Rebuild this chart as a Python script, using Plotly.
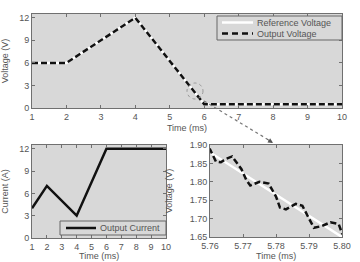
import plotly.graph_objects as go

# ---- data ----
ref_time = [1, 2, 4, 6, 10]
ref_voltage = [6, 6, 12, 0.5, 0.5]

out_time = [1, 2, 4, 5.760, 5.7618, 5.7633, 5.7648, 5.7667, 5.7695, 5.7710, 5.7722,
            5.7750, 5.7778, 5.7800, 5.7812, 5.7830, 5.7860, 5.7880, 5.7900, 5.7915,
            5.7940, 5.7965, 5.7990, 5.8000, 6, 10]
out_voltage = [6, 6, 12, 1.888, 1.855, 1.853, 1.862, 1.869, 1.835, 1.805, 1.790,
               1.800, 1.795, 1.760, 1.730, 1.725, 1.740, 1.735, 1.700, 1.675,
               1.680, 1.690, 1.685, 1.660, 0.5, 0.5]

cur_time = [1, 2, 4, 6, 10]
cur_current = [4, 7, 3, 12, 12]

x_ticks_main = [1, 2, 3, 4, 5, 6, 7, 8, 9, 10]
y_ticks_main = [0, 3, 6, 9, 12]

W, H = 360, 262
def px(x): return x / W
def py(y): return 1 - y / H

FONT = "Liberation Sans, Arial, sans-serif"
TXT = "#555555"
BG = "#d8d8d8"
AX = "#707070"
DASH = "6px,3px"

fig = go.Figure()

fig.add_trace(go.Scatter(x=ref_time, y=ref_voltage, mode="lines", name="Reference Voltage",
                         line=dict(color="white", width=2.5), xaxis="x", yaxis="y", showlegend=False))
fig.add_trace(go.Scatter(x=out_time, y=out_voltage, mode="lines", name="Output Voltage",
                         line=dict(color="#111111", width=2.5, dash=DASH), xaxis="x", yaxis="y", showlegend=False))
fig.add_trace(go.Scatter(x=cur_time, y=cur_current, mode="lines", name="Output Current",
                         line=dict(color="#111111", width=2.5), xaxis="x2", yaxis="y2", showlegend=False))
fig.add_trace(go.Scatter(x=ref_time, y=ref_voltage, mode="lines", showlegend=False,
                         line=dict(color="white", width=2.5), xaxis="x3", yaxis="y3"))
fig.add_trace(go.Scatter(x=out_time, y=out_voltage, mode="lines", showlegend=False,
                         line=dict(color="#111111", width=2.5, dash=DASH), xaxis="x3", yaxis="y3"))

axcommon = dict(showline=True, linecolor=AX, linewidth=1, mirror="ticks", ticks="inside",
                ticklen=3, tickcolor=AX, showgrid=False, zeroline=False,
                tickfont=dict(size=9, color=TXT, family=FONT))
titlefont = dict(size=9, color=TXT, family=FONT)

BL = (32, 166)   # bottom-left plot x extent (px)
BR = (210, 342)  # bottom-right plot x extent (px)

fig.update_layout(
    width=W, height=H, margin=dict(l=0, r=0, t=0, b=0, autoexpand=False),
    paper_bgcolor="white", plot_bgcolor=BG,
    font=dict(family=FONT, color=TXT, size=9),
    showlegend=False,
    xaxis=dict(domain=[px(32), px(342)], anchor="y", range=[1, 10], tickvals=x_ticks_main,
               automargin=True,
               title=dict(text="Time (ms)", font=titlefont, standoff=3), **axcommon),
    yaxis=dict(domain=[py(108), py(14)], anchor="x", range=[0, 12.5], tickvals=y_ticks_main,
               automargin=False,
               title=dict(text="Voltage (V)", font=titlefont), **axcommon),
    xaxis2=dict(domain=[px(BL[0]), px(BL[1])], anchor="y2", range=[1, 10], tickvals=x_ticks_main,
                automargin=False, **axcommon),
    yaxis2=dict(domain=[py(238), py(145)], anchor="x2", range=[0, 12.5], tickvals=y_ticks_main,
                automargin=False,
                title=dict(text="Current (A)", font=titlefont), **axcommon),
    xaxis3=dict(domain=[px(BR[0]), px(BR[1])], anchor="y3", range=[5.76, 5.80], dtick=0.01,
                tickformat=".2f", automargin=False, **axcommon),
    yaxis3=dict(domain=[py(237), py(145)], anchor="x3", range=[1.65, 1.90], dtick=0.05,
                tickformat=".2f", automargin=False,
                title=dict(text="Voltage (V)", font=titlefont), **axcommon),
)

# bottom-row x titles, sitting on the lower edge as in the reference
for (a, b) in (BL, BR):
    fig.add_annotation(x=px((a + b) / 2), y=0, xref="paper", yref="paper",
                       text="Time (ms)", showarrow=False, xanchor="center", yanchor="bottom",
                       borderpad=0, font=dict(size=9, color=TXT, family=FONT))

# ---- hand-built legends (compact, as in the reference) ----
def legend_box(x0, y0, x1, y1):
    fig.add_shape(type="rect", xref="paper", yref="paper",
                  x0=px(x0), x1=px(x1), y0=py(y1), y1=py(y0),
                  fillcolor=BG, line=dict(color="#666666", width=1))

def legend_item(xl0, xl1, y, color, dash, label):
    fig.add_shape(type="line", xref="paper", yref="paper",
                  x0=px(xl0), x1=px(xl1), y0=py(y), y1=py(y),
                  line=dict(color=color, width=2.5, dash=dash))
    fig.add_annotation(x=px(xl1 + 2), y=py(y), xref="paper", yref="paper",
                       text=label, showarrow=False, xanchor="left", yanchor="middle",
                       font=dict(size=9, color=TXT, family=FONT))

legend_box(217, 16, 342, 40)
legend_item(222, 253, 22.5, "white", "solid", "Reference Voltage")
legend_item(222, 253, 33.5, "#111111", "6px,4px", "Output Voltage")

legend_box(60, 221, 166, 235)
legend_item(66, 96, 228, "#111111", "solid", "Output Current")

# zoom marker ellipse and dotted connector
fig.add_shape(type="circle", xref="paper", yref="paper",
              x0=px(187), x1=px(203), y0=py(99), y1=py(83),
              line=dict(color="#999999", width=1, dash="dot"))
fig.add_shape(type="line", xref="paper", yref="paper",
              x0=px(204), y0=py(101), x1=px(272), y1=py(142),
              line=dict(color="#777777", width=1.2, dash="dot"))
fig.add_annotation(x=px(273), y=py(143), xref="paper", yref="paper",
                   ax=-7, ay=-4.5, showarrow=True, arrowhead=2, arrowsize=1,
                   arrowwidth=1, arrowcolor="#555555", text="")

fig.write_html("out.html", config={"displayModeBar": False},
               post_script="document.body.style.margin='0';")
